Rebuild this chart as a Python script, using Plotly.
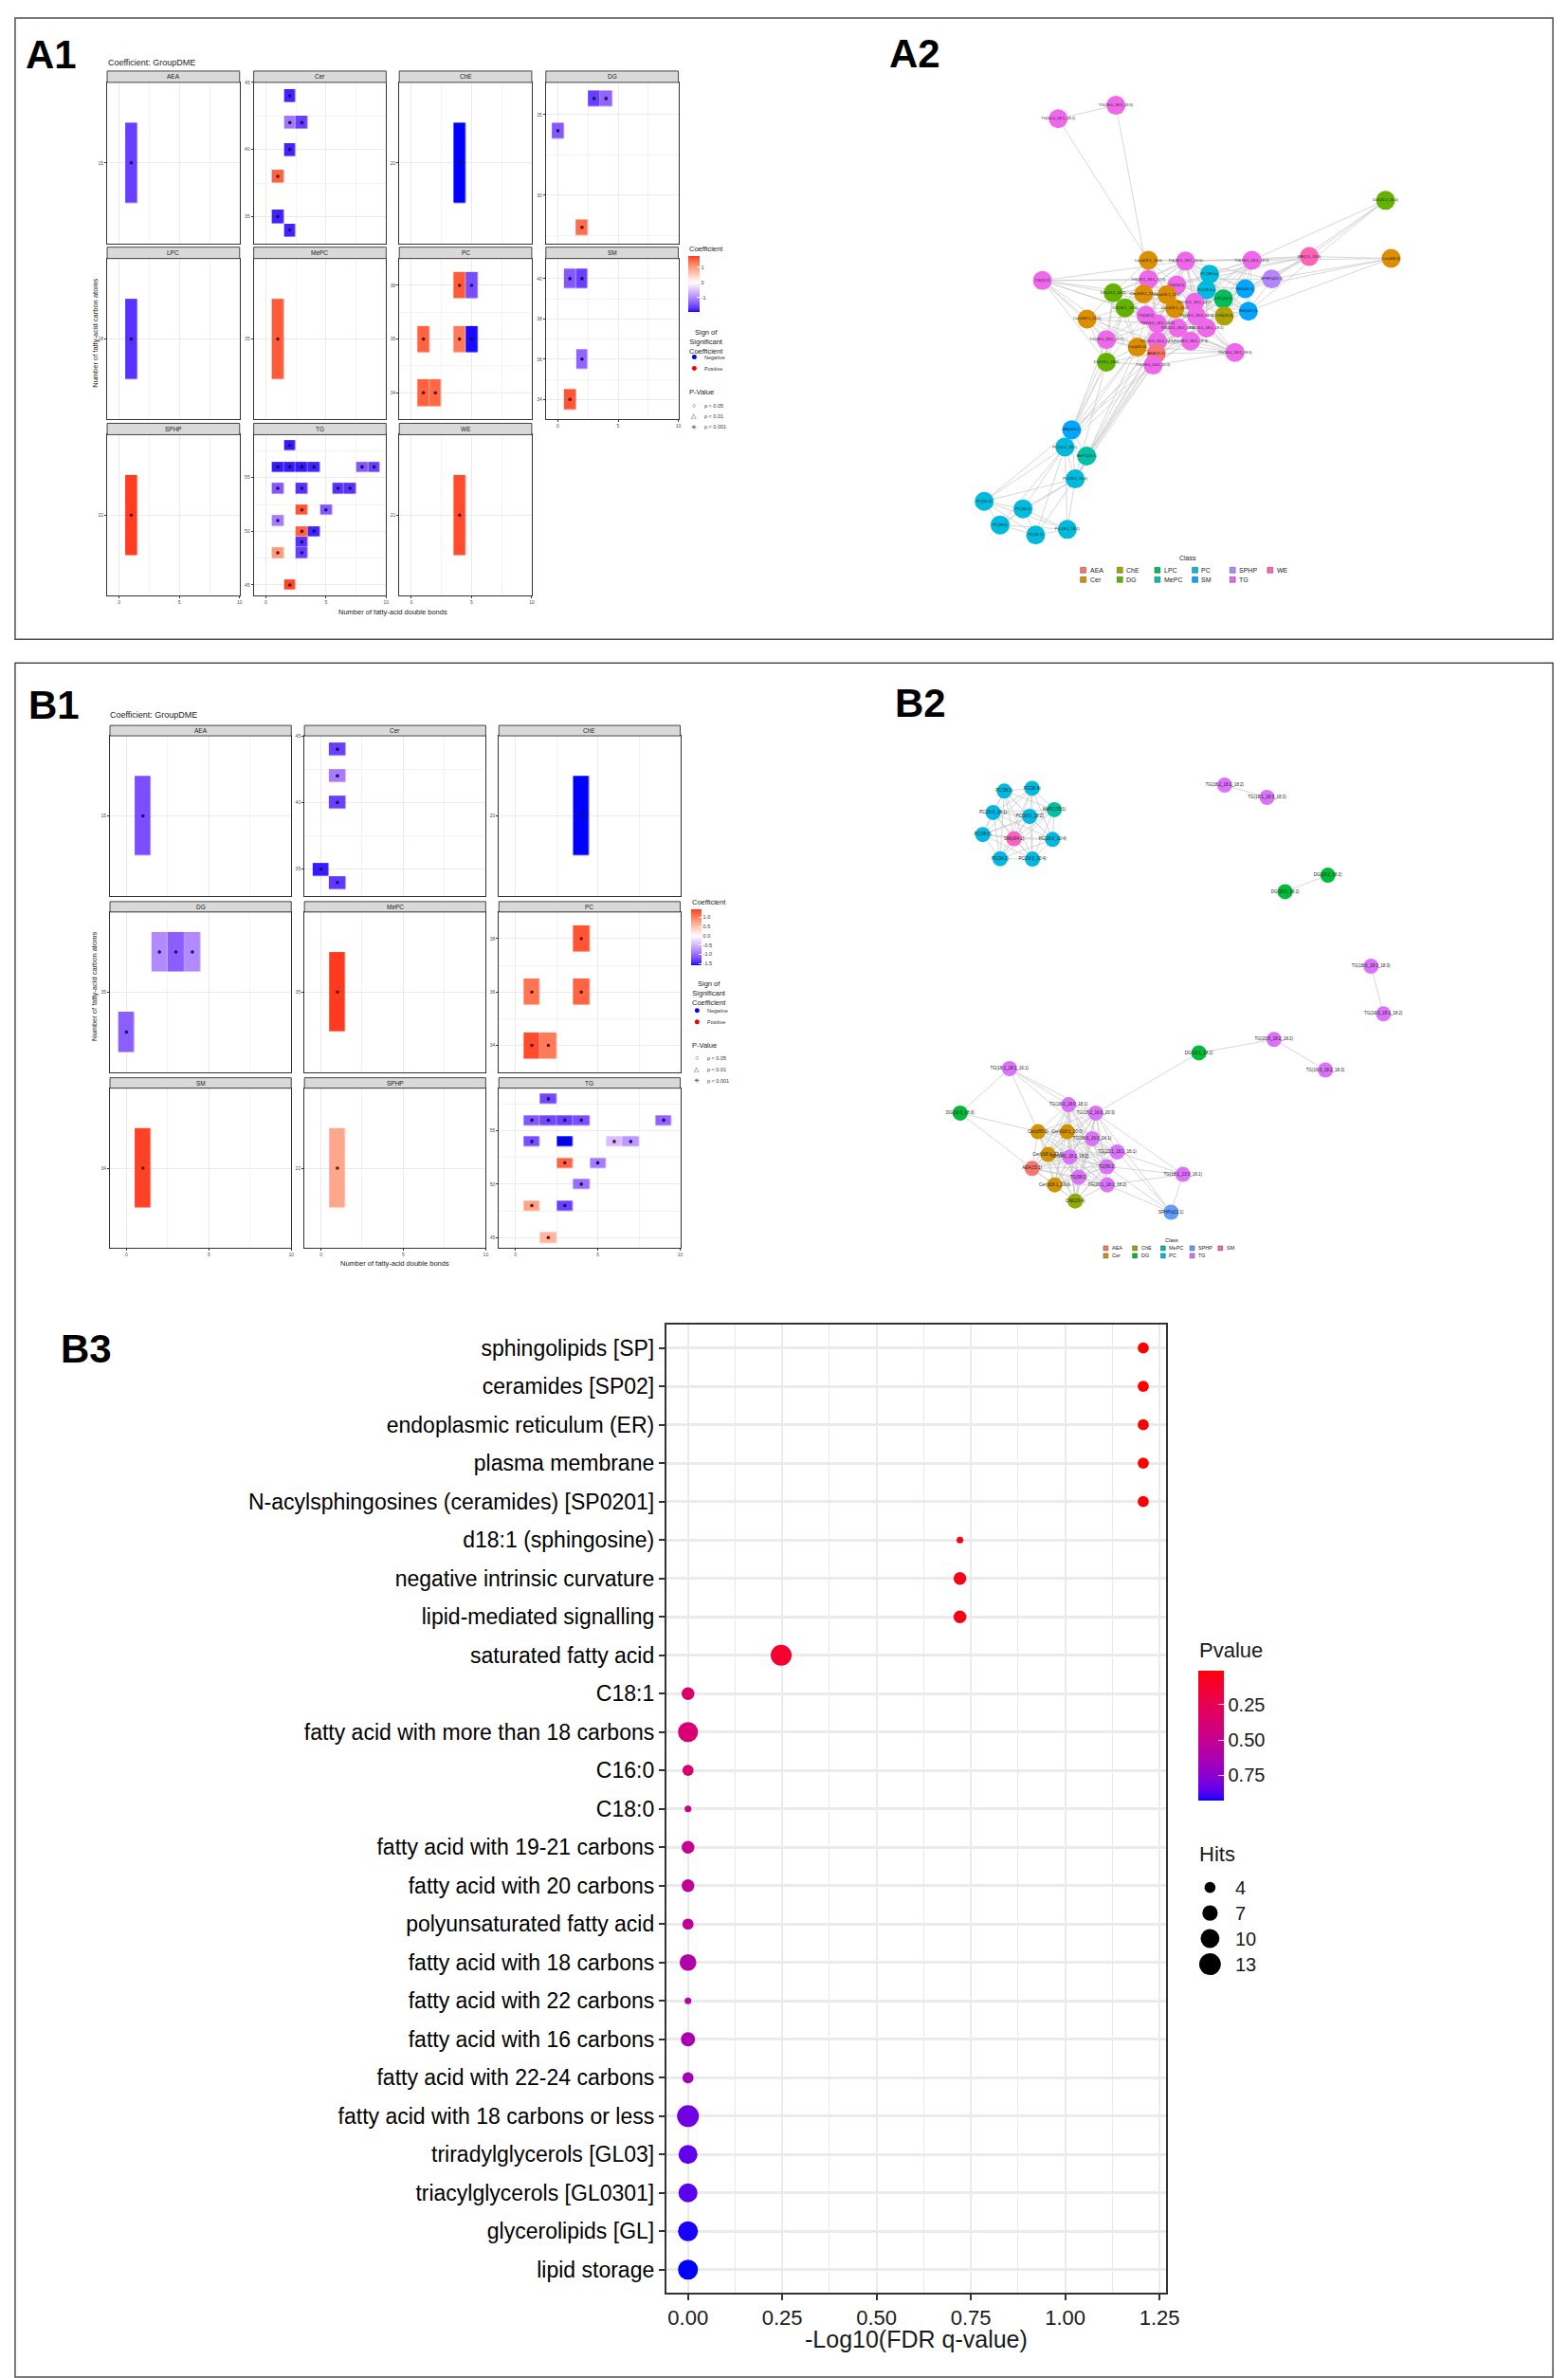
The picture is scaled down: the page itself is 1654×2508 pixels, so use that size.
import math
import plotly.graph_objects as go

# ============================ DATA ============================
# ---- A1: significant tiles (lipid class, double bonds, carbon atoms, coefficient, sign) ----
A1_FACETS = ["AEA", "Cer", "ChE", "DG", "LPC", "MePC", "PC", "SM", "SPHP", "TG", "WE"]
A1_CLASS = ["AEA",
            "Cer", "Cer", "Cer", "Cer", "Cer", "Cer", "Cer",
            "ChE",
            "DG", "DG", "DG", "DG",
            "LPC",
            "MePC",
            "PC", "PC", "PC", "PC", "PC", "PC", "PC",
            "SM", "SM", "SM", "SM",
            "SPHP",
            "TG", "TG", "TG", "TG", "TG", "TG", "TG", "TG", "TG", "TG",
            "TG", "TG", "TG", "TG", "TG", "TG", "TG", "TG", "TG", "TG",
            "WE"]
A1_DB = [1,
         2, 2, 3, 2, 1, 1, 2,
         4,
         3, 4, 0, 2,
         1,
         1,
         4, 5, 1, 4, 5, 1, 2,
         1, 2, 2, 1,
         1,
         2, 1, 2, 3, 4, 8, 9, 1, 3, 6,
         7, 3, 5, 1, 3, 4, 3, 1, 3, 2,
         4]
A1_CARBON = [15,
             44, 42, 42, 40, 38, 35, 34,
             20,
             36, 36, 34, 28,
             18,
             35,
             38, 38, 36, 36, 36, 34, 34,
             40, 40, 36, 34,
             22,
             58, 56, 56, 56, 56, 56, 56, 54, 54, 54,
             54, 52, 52, 51, 50, 50, 49, 48, 48, 45,
             21]
A1_COEF = [-1.60,
           -1.80, -1.15, -1.60, -1.80, 1.50, -1.80, -1.80,
           -1.94,
           -1.60, -1.30, -1.40, 1.40,
           -1.70,
           1.55,
           1.55, -1.50, 1.50, 1.30, -1.90, 1.50, 1.45,
           -1.40, -1.60, -1.30, 1.60,
           1.75,
           -1.85, -1.85, -1.85, -1.85, -1.80, -1.40, -1.60, -1.40, -1.70, -1.70,
           -1.70, 1.60, -1.40, -1.10, 1.50, -1.80, -1.70, 1.00, -1.60, 1.70,
           1.65]
A1_SIGN = ["N",
           "N", "N", "N", "N", "P", "N", "N",
           "N",
           "N", "N", "N", "P",
           "N",
           "P",
           "P", "N", "P", "P", "N", "P", "P",
           "N", "N", "N", "P",
           "P",
           "N", "N", "N", "N", "N", "N", "N", "N", "N", "N",
           "N", "P", "N", "N", "P", "N", "N", "P", "N", "P",
           "P"]
A1_YTICKS = {"AEA": [15], "Cer": [35, 40, 45], "ChE": [20], "DG": [30, 35], "LPC": [18],
             "MePC": [35], "PC": [34, 36, 38], "SM": [34, 36, 38, 40], "SPHP": [22],
             "TG": [45, 50, 55], "WE": [21]}
A1_CB_TICKS = [-1, 0, 1]

# ---- B1 ----
B1_FACETS = ["AEA", "Cer", "ChE", "DG", "MePC", "PC", "SM", "SPHP", "TG"]
B1_CLASS = ["AEA",
            "Cer", "Cer", "Cer", "Cer", "Cer",
            "ChE",
            "DG", "DG", "DG", "DG",
            "MePC",
            "PC", "PC", "PC", "PC", "PC",
            "SM",
            "SPHP",
            "TG", "TG", "TG", "TG", "TG", "TG", "TG", "TG",
            "TG", "TG", "TG", "TG", "TG", "TG", "TG", "TG"]
B1_DB = [1,
         1, 1, 1, 0, 1,
         4,
         2, 3, 4, 0,
         1,
         4, 1, 4, 1, 2,
         1,
         1,
         2, 1, 2, 3, 4, 9, 1, 3,
         6, 7, 3, 5, 4, 1, 3, 2]
B1_CARBON = [15,
             44, 42, 40, 35, 34,
             20,
             36, 36, 36, 34,
             35,
             38, 36, 36, 34, 34,
             34,
             22,
             58, 56, 56, 56, 56, 56, 54, 54,
             54, 54, 52, 52, 50, 48, 48, 45]
B1_COEF = [-1.20,
           -1.30, -0.90, -1.30, -1.50, -1.35,
           -1.58,
           -0.80, -1.10, -0.80, -1.10,
           1.44,
           1.30, 1.10, 1.20, 1.35, 1.05,
           1.40,
           0.72,
           -1.25, -1.15, -1.25, -1.30, -1.20, -1.05, -1.20, -1.58,
           -0.45, -0.70, 1.20, -0.90, -1.00, 0.75, -1.30, 0.60]
B1_SIGN = ["N",
           "N", "N", "N", "N", "N",
           "N",
           "N", "N", "N", "N",
           "P",
           "P", "P", "P", "P", "P",
           "P",
           "P",
           "N", "N", "N", "N", "N", "N", "N", "N",
           "P", "N", "P", "N", "N", "P", "N", "P"]
B1_YTICKS = {"AEA": [15], "Cer": [35, 40, 45], "ChE": [20], "DG": [35], "MePC": [35],
             "PC": [34, 36, 38], "SM": [34], "SPHP": [22], "TG": [45, 50, 55]}
B1_CB_TICKS = [-1.5, -1.0, -0.5, 0.0, 0.5, 1.0]

X_TICKS = [0, 5, 10]
SIGN_NAMES = ["Negative", "Positive"]
PVAL_NAMES = ["p < 0.05", "p < 0.01", "p < 0.001"]

# ---- A2 network (layout coordinates) ----
A2_CLASSES = ["AEA", "Cer", "ChE", "DG", "LPC", "MePC", "PC", "SM", "SPHP", "TG", "WE"]
A2_NAMES = ["TG(16:0_18:1_18:2)", "TG(18:0_18:3_18:3)", "DG(20:2_20:4)", "Cer(d36:0)", "WE(2:0_19:4)",
            "TG(18:1_18:0_16:1)", "SPHP(d22:1)", "SM(d40:1)", "SM(d40:2)", "LPC(18:1)",
            "ChE(20:4)", "PC(38:5e)", "PC(36:5e)", "TG(18:1_18:2_20:5)", "Cer(d18:1_16:0)",
            "TG(18:1_18:1_17:1)", "TG(56:2)", "Cer(d18:2_24:0)", "Cer(d18:1_22:0)", "DG(18:2_18:2)",
            "DG(18:1_18:2)", "TG(51:1)", "Cer(d18:1_24:0)", "TG(20:1_18:1_18:2)", "Cer(d18:1_20:0)",
            "TG(58:2)", "TG(18:1_18:3_18:3)", "TG(14:0_18:2_18:2)", "TG(20:5_18:2_18:2)", "TG(20:1_18:1_18:1)",
            "TG(18:0_18:0_18:1)", "TG(16:0_16:0_24:1)", "TG(18:2_18:2_18:3)", "Cer(d35:0)", "AEA(15:1)",
            "TG(16:0_18:2_18:3)", "DG(18:0_18:0)", "TG(18:0_14:0_20:3)", "SM(d34:1)", "PC(16:0_18:1)",
            "MePC(35:1)", "PC(18:0_20:4)", "PC(34:2)", "PC(36:4)", "PC(38:6)",
            "PC(36:1)", "PC(18:0_18:2)"]
A2_NODE_CLASS = ["TG", "TG", "DG", "Cer", "WE",
                 "TG", "SPHP", "SM", "SM", "LPC",
                 "ChE", "PC", "PC", "TG", "Cer",
                 "TG", "TG", "Cer", "Cer", "DG",
                 "DG", "TG", "Cer", "TG", "Cer",
                 "TG", "TG", "TG", "TG", "TG",
                 "TG", "TG", "TG", "Cer", "AEA",
                 "TG", "DG", "TG", "SM", "PC",
                 "MePC", "PC", "PC", "PC", "PC",
                 "PC", "PC"]
A2_X = [305, 451, 1133, 1147, 940, 795, 845, 778, 786, 723,
        725, 688, 680, 627, 533, 533, 605, 521, 580, 444,
        474, 265, 378, 650, 600, 527, 655, 556, 608, 680,
        427, 556, 640, 505, 553, 752, 427, 545, 339, 322,
        377, 348, 118, 216, 158, 248, 328]
A2_Y = [163, 127, 381, 536, 531, 541, 591, 617, 677, 644,
        690, 578, 620, 543, 541, 592, 607, 631, 633, 628,
        668, 595, 698, 653, 670, 688, 690, 710, 722, 722,
        753, 757, 757, 773, 790, 787, 813, 821, 994, 1040,
        1064, 1125, 1185, 1205, 1248, 1275, 1260]
A2_CLIQUES = [[13, 14, 15, 16, 17, 18, 19, 20, 24, 25, 27],
              [5, 7, 8, 9, 10, 11, 12, 13, 16, 23, 26, 29],
              [23, 24, 25, 26, 27, 28, 29, 31, 32, 33, 34, 35, 37],
              [19, 20, 21, 22, 25, 30, 33, 36],
              [38, 39, 40, 41],
              [39, 41, 42, 43, 44, 45, 46]]
A2_EDGES = [(0, 1), (0, 14), (1, 15), (2, 4), (2, 5), (2, 6), (2, 8), (3, 4), (3, 5), (3, 6),
            (3, 8), (3, 7), (4, 5), (4, 6), (4, 7), (4, 9), (4, 11), (4, 13), (4, 16), (21, 15),
            (21, 13), (21, 6), (21, 17), (14, 5), (6, 7), (6, 8), (6, 13), (22, 27), (22, 31), (30, 34),
            (30, 27), (36, 33), (36, 34), (36, 37), (38, 36), (38, 37), (38, 34), (38, 33), (38, 30), (39, 36),
            (39, 37), (39, 31), (39, 33), (40, 34), (40, 37), (40, 27), (40, 31), (41, 37), (41, 34), (41, 36),
            (38, 20), (40, 33), (41, 31), (42, 39), (42, 38)]

# ---- B2 network ----
B2_CLASSES = ["AEA", "Cer", "ChE", "DG", "MePC", "PC", "SPHP", "TG", "SM"]
B2_NAMES = ["PC(36:1)", "PC(36:4)", "MePC(35:1)", "PC(16:0_18:1)", "PC(16:0_18:2)",
            "PC(38:6)", "SM(d34:1)", "PC(18:0_20:4)", "PC(34:2)", "PC(16:0_20:4)",
            "TG(18:2_18:2_18:2)", "TG(18:1_18:3_18:3)", "DG(18:2_18:2)", "DG(16:0_18:2)", "TG(18:0_18:3_18:3)",
            "TG(16:0_18:1_18:2)", "DG(18:1_18:2)", "TG(20:5_18:2_18:2)", "TG(16:0_18:2_18:3)", "TG(18:1_18:1_16:1)",
            "DG(18:0_18:0)", "TG(18:0_18:0_18:1)", "TG(18:2_16:0_20:3)", "Cer(d35:0)", "Cer(d18:1_20:0)",
            "TG(16:0_16:0_24:1)", "TG(20:1_18:1_16:1)", "Cer(d18:1_22:0)", "TG(14:0_18:2_18:2)", "AEA(15:1)",
            "TG(56:2)", "TG(58:2)", "Cer(d18:1_23:0)", "TG(20:1_18:1_18:2)", "ChE(20:4)",
            "TG(18:1_13:0_16:1)", "SPHP(d22:1)"]
B2_NODE_CLASS = ["PC", "PC", "MePC", "PC", "PC",
                 "PC", "SM", "PC", "PC", "PC",
                 "TG", "TG", "DG", "DG", "TG",
                 "TG", "DG", "TG", "TG", "TG",
                 "DG", "TG", "TG", "Cer", "Cer",
                 "TG", "TG", "Cer", "TG", "AEA",
                 "TG", "TG", "Cer", "TG", "ChE",
                 "TG", "SPHP"]
B2_X = [300, 380, 444, 268, 373, 238, 328, 439, 288, 381,
        934, 1056, 1231, 1108, 1355, 1391, 860, 1076, 1224, 315,
        173, 485, 563, 397, 481, 553, 625, 426, 488, 380,
        595, 514, 445, 596, 504, 814, 780]
B2_Y = [228, 220, 281, 289, 300, 352, 364, 366, 421, 422,
        211, 246, 468, 515, 728, 864, 975, 937, 1024, 1020,
        1147, 1123, 1147, 1200, 1200, 1220, 1258, 1265, 1272, 1305,
        1300, 1330, 1352, 1352, 1398, 1322, 1430]
B2_CLIQUES = [[0, 1, 2, 3, 4, 5, 6, 7, 8, 9],
              [21, 22, 23, 24, 25, 26, 27, 28, 29, 30, 31, 32, 33, 34]]
B2_EDGES = [(10, 11), (12, 13), (14, 15), (16, 17), (17, 18), (16, 22), (19, 20), (19, 21), (19, 22),
            (19, 23), (19, 25), (20, 23), (20, 29), (35, 26), (35, 30), (35, 33), (35, 36), (35, 22),
            (36, 30), (36, 33), (36, 26), (36, 22)]

# ---- B3 enrichment dot plot ----
B3_TERMS = ["sphingolipids [SP]", "ceramides [SP02]", "endoplasmic reticulum (ER)", "plasma membrane",
            "N-acylsphingosines (ceramides) [SP0201]", "d18:1 (sphingosine)", "negative intrinsic curvature",
            "lipid-mediated signalling", "saturated fatty acid", "C18:1", "fatty acid with more than 18 carbons",
            "C16:0", "C18:0", "fatty acid with 19-21 carbons", "fatty acid with 20 carbons",
            "polyunsaturated fatty acid", "fatty acid with 18 carbons", "fatty acid with 22 carbons",
            "fatty acid with 16 carbons", "fatty acid with 22-24 carbons", "fatty acid with 18 carbons or less",
            "triradylglycerols [GL03]", "triacylglycerols [GL0301]", "glycerolipids [GL]", "lipid storage"]
B3_FDR = [1.207, 1.207, 1.207, 1.207, 1.207, 0.721, 0.721, 0.721, 0.247, 0.0,
          0.0, 0.0, 0.0, 0.0, 0.0, 0.0, 0.0, 0.0, 0.0, 0.0,
          0.0, 0.0, 0.0, 0.0, 0.0]
B3_PVALUE = [0.007, 0.007, 0.008, 0.008, 0.008, 0.04, 0.05, 0.05, 0.12, 0.35,
             0.38, 0.36, 0.45, 0.50, 0.52, 0.53, 0.60, 0.56, 0.63, 0.66,
             0.82, 0.85, 0.86, 0.92, 0.93]
B3_HITS = [4, 4, 4, 4, 4, 2, 5, 5, 12, 5,
           11, 4, 2, 5, 5, 4, 8, 2, 6, 4,
           13, 10, 10, 11, 11]
B3_X_TICKS = [0.0, 0.25, 0.5, 0.75, 1.0, 1.25]
B3_CB_TICKS = [0.25, 0.50, 0.75]
B3_HITS_LEGEND = [4, 7, 10, 13]

# ============================ STYLE / GEOMETRY ============================
W, H = 1654, 2508
FONT = "Liberation Sans, Arial, sans-serif"

A1_GEOM = dict(colx=[106, 262, 417, 573], pw=141, rowy=[64, 250, 436], sh=12, ph=170, ncol=4)
B1_GEOM = dict(colx=[109, 316, 523], pw=193, rowy=[755, 941, 1127], sh=11, ph=169, ncol=3)

A2_PAL = {"AEA": "#F8766D", "Cer": "#DB8E00", "ChE": "#AEA200", "DG": "#64B200", "LPC": "#00BD5C",
          "MePC": "#00C1A7", "PC": "#00BADE", "SM": "#00A6FF", "SPHP": "#B385FF", "TG": "#EF67EB",
          "WE": "#FF63B6"}
B2_PAL = {"AEA": "#F8766D", "Cer": "#D39200", "ChE": "#93AA00", "DG": "#00BA38", "MePC": "#00C19F",
          "PC": "#00B9E3", "SPHP": "#619CFF", "TG": "#DB72FB", "SM": "#FF61C3"}


# ---------- colour helpers (Lab interpolation like ggplot) ----------
def _lin(c):
    c = c / 255.0
    return c / 12.92 if c <= 0.04045 else ((c + 0.055) / 1.055) ** 2.4


def _gam(c):
    c = max(0.0, min(1.0, c))
    v = 12.92 * c if c <= 0.0031308 else 1.055 * c ** (1 / 2.4) - 0.055
    return int(round(v * 255))


def hex2lab(h):
    h = h.lstrip("#")
    r, g, b = [_lin(int(h[i:i + 2], 16)) for i in (0, 2, 4)]
    X = (0.4124 * r + 0.3576 * g + 0.1805 * b) / 0.95047
    Y = 0.2126 * r + 0.7152 * g + 0.0722 * b
    Z = (0.0193 * r + 0.1192 * g + 0.9505 * b) / 1.08883
    f = lambda t: t ** (1 / 3) if t > 0.008856 else 7.787 * t + 16 / 116
    fx_, fy_, fz_ = f(X), f(Y), f(Z)
    return (116 * fy_ - 16, 500 * (fx_ - fy_), 200 * (fy_ - fz_))


def lab2hex(lab):
    L, a, b = lab
    fy_ = (L + 16) / 116
    fx_ = fy_ + a / 500
    fz_ = fy_ - b / 200
    inv = lambda t: t ** 3 if t ** 3 > 0.008856 else (t - 16 / 116) / 7.787
    X, Y, Z = 0.95047 * inv(fx_), inv(fy_), 1.08883 * inv(fz_)
    r = 3.2406 * X - 1.5372 * Y - 0.4986 * Z
    g = -0.9689 * X + 1.8758 * Y + 0.0415 * Z
    bb = 0.0557 * X - 0.2040 * Y + 1.0570 * Z
    return "#%02X%02X%02X" % (_gam(r), _gam(g), _gam(bb))


def lab_mix(h1, h2, t):
    a, b = hex2lab(h1), hex2lab(h2)
    return lab2hex(tuple(a[i] + (b[i] - a[i]) * t for i in range(3)))


def gradient2_scale(zmin, zmax, n=40):
    m = max(abs(zmin), abs(zmax))
    out = []
    for k in range(n + 1):
        t = k / n
        v = zmin + t * (zmax - zmin)
        u = v / m
        col = lab_mix("#FFFFFF", "#0000FF", -u) if u < 0 else lab_mix("#FFFFFF", "#FF0000", u)
        out.append([t, col])
    return out


# ---------- layout helpers ----------
def fx(px):
    return px / W


def fy(py):
    return 1 - py / H


layout = dict(width=W, height=H, margin=dict(l=0, r=0, t=0, b=0), paper_bgcolor="white",
              plot_bgcolor="white", showlegend=False, font=dict(family=FONT, color="#1a1a1a"))
traces, shapes, annotations = [], [], []
_axn = [0]


def new_axes(x0, x1, y0, y1, xa, ya):
    _axn[0] += 1
    i = _axn[0]
    sfx = "" if i == 1 else str(i)
    xa = dict(xa)
    ya = dict(ya)
    xa.update(domain=[fx(x0), fx(x1)], anchor="y" + sfx)
    ya.update(domain=[fy(y1), fy(y0)], anchor="x" + sfx)
    layout["xaxis" + sfx] = xa
    layout["yaxis" + sfx] = ya
    return "x" + sfx, "y" + sfx


def text(x, y, s, size, color="#1a1a1a", xanchor="left", yanchor="middle", angle=0, bold=False):
    if bold:
        s = "<b>" + s + "</b>"
    annotations.append(dict(x=fx(x), y=fy(y), xref="paper", yref="paper", text=s, showarrow=False,
                            font=dict(size=size, color=color, family=FONT), xanchor=xanchor,
                            yanchor=yanchor, textangle=angle, borderpad=0))


def rect(x0, y0, x1, y1, fill, line="rgba(0,0,0,0)", lw=0):
    shapes.append(dict(type="rect", xref="paper", yref="paper", x0=fx(x0), x1=fx(x1), y0=fy(y1),
                       y1=fy(y0), fillcolor=fill, line=dict(color=line, width=lw)))


def circle(cx, cy, d, fill, line="rgba(0,0,0,0)", lw=0):
    shapes.append(dict(type="circle", xref="paper", yref="paper", x0=fx(cx - d / 2), x1=fx(cx + d / 2),
                       y0=fy(cy + d / 2), y1=fy(cy - d / 2), fillcolor=fill, line=dict(color=line, width=lw)))


# ---------- panel boxes and labels ----------
rect(8, 8, 1645, 664, "rgba(0,0,0,0)", "#4d4d4d", 1.5)
rect(8, 689, 1645, 2499, "rgba(0,0,0,0)", "#4d4d4d", 1.5)
text(46, 47, "A1", 42, "#000", "center", bold=True)
text(966, 46, "A2", 42, "#000", "center", bold=True)
text(49, 733, "B1", 42, "#000", "center", bold=True)
text(972, 731, "B2", 42, "#000", "center", bold=True)
text(84, 1413, "B3", 42, "#000", "center", bold=True)


# ---------- facet tile panels ----------
def minor_between(ticks, lo, hi):
    if len(ticks) < 2:
        return []
    st = ticks[1] - ticks[0]
    cand = [ticks[0] - st / 2] + [t + st / 2 for t in ticks]
    return [c for c in cand if lo < c < hi]


def facet_panel(facets, cls, db, carb, coef, sign, yticks, geom, cb_ticks, cb_box, tick_fmt):
    zmin, zmax = min(coef), max(coef)
    cscale = gradient2_scale(zmin, zmax)
    ncol = geom["ncol"]
    for idx, fac in enumerate(facets):
        r, c = divmod(idx, ncol)
        x0 = geom["colx"][c]
        x1 = x0 + geom["pw"]
        st = geom["rowy"][r]
        py0 = st + geom["sh"]
        py1 = py0 + geom["ph"]
        bottom = idx + ncol >= len(facets)
        ids = [i for i in range(len(cls)) if cls[i] == fac]
        xs = [db[i] for i in ids]
        ys = [carb[i] for i in ids]
        lo, hi = min(ys) - 1, max(ys) + 1
        axcommon = dict(showline=True, mirror=True, linecolor="#333333", linewidth=0.9, zeroline=False,
                        showgrid=True, gridcolor="#EBEBEB", gridwidth=0.9, fixedrange=True,
                        tickfont=dict(size=5, color="#4d4d4d", family=FONT), ticklen=2, tickwidth=0.6,
                        tickcolor="#333333")
        xa = dict(axcommon, range=[-1, 10], tickmode="array", tickvals=X_TICKS,
                  showticklabels=bottom, ticks="outside" if bottom else "",
                  minor=dict(tickvals=[2.5, 7.5], showgrid=True, gridcolor="#F3F3F3", gridwidth=0.5))
        ya = dict(axcommon, range=[lo, hi], tickmode="array", tickvals=yticks[fac], ticks="outside",
                  minor=dict(tickvals=minor_between(yticks[fac], lo, hi), showgrid=True,
                             gridcolor="#F3F3F3", gridwidth=0.5))
        xr, yr = new_axes(x0, x1, py0, py1, xa, ya)
        gx = list(range(min(xs), max(xs) + 1))
        gy = list(range(min(ys), max(ys) + 1))
        z = [[None] * len(gx) for _ in gy]
        for i in ids:
            z[carb[i] - gy[0]][db[i] - gx[0]] = coef[i]
        hm = dict(x=gx, y=gy, z=z, zmin=zmin, zmax=zmax, colorscale=cscale, xaxis=xr, yaxis=yr,
                  hoverinfo="skip", showscale=(idx == 0), xgap=0.4, ygap=0.4)
        if idx == 0:
            bx, by, blen, bth = cb_box
            hm["colorbar"] = dict(x=fx(bx), xanchor="left", y=fy(by), yanchor="top", len=blen,
                                  lenmode="pixels", thickness=bth, thicknessmode="pixels", xpad=0, ypad=0,
                                  outlinewidth=0, tickmode="array", tickvals=cb_ticks,
                                  ticktext=[tick_fmt.format(t) for t in cb_ticks], ticks="inside",
                                  tickcolor="white", ticklen=3, tickwidth=0.6,
                                  tickfont=dict(size=5.5, color="#333", family=FONT))
        traces.append(go.Heatmap(**hm))
        traces.append(go.Scatter(x=xs, y=ys, mode="markers", xaxis=xr, yaxis=yr, hoverinfo="skip",
                                 cliponaxis=False,
                                 marker=dict(size=3.6, opacity=1, line=dict(width=0),
                                             color=["#15105e" if sign[i] == "N" else "#5e1010" for i in ids])))
        rect(x0, st, x1, py0, "#D9D9D9", "#333333", 0.9)
        text((x0 + x1) / 2, st + geom["sh"] / 2, fac, 6.5, "#1a1a1a", "center")


def facet_legend(lx, ytitle, ycb, yneg, ypos, yp, yps, title_y):
    text(lx, ytitle, "Coefficient", 7.5, "#1a1a1a", "left")
    text(lx, title_y, "Sign of<br>Significant<br>Coefficient", 7.5, "#1a1a1a", "left", "top")
    for k, (yy, col) in enumerate([(yneg, "#0000EE"), (ypos, "#EE0000")]):
        circle(lx + 6, yy, 5, col)
        text(lx + 16, yy, SIGN_NAMES[k], 5.5, "#333", "left")
    text(lx, yp, "P-Value", 7.5, "#1a1a1a", "left")
    glyphs = ["○", "△", "✳"]
    for k, yy in enumerate(yps):
        text(lx + 6, yy, glyphs[k], 7, "#333", "center")
        text(lx + 16, yy, PVAL_NAMES[k], 5.5, "#333", "left")


# ---------------- A1 ----------------
text(106, 55, "Coefficient: GroupDME", 9, "#1a1a1a", "left")
facet_panel(A1_FACETS, A1_CLASS, A1_DB, A1_CARBON, A1_COEF, A1_SIGN, A1_YTICKS, A1_GEOM,
            A1_CB_TICKS, (725, 259, 59, 12), "{:g}")
facet_legend(725, 252, 259, 366, 378, 403, [417, 428.5, 440], 334)
text(93, 341, "Number of fatty-acid carbon atoms", 7.5, "#1a1a1a", "center", angle=-90)
text(410, 635, "Number of fatty-acid double bonds", 7.5, "#1a1a1a", "center")

# ---------------- B1 ----------------
text(108, 744, "Coefficient: GroupDME", 9, "#1a1a1a", "left")
facet_panel(B1_FACETS, B1_CLASS, B1_DB, B1_CARBON, B1_COEF, B1_SIGN, B1_YTICKS, B1_GEOM,
            B1_CB_TICKS, (728, 949, 59, 11), "{:.1f}")
facet_legend(728, 942, 949, 1056, 1068, 1093, [1106, 1118, 1130], 1022)
text(93, 1031, "Number of fatty-acid carbon atoms", 7.5, "#1a1a1a", "center", angle=-90)
text(412, 1323, "Number of fatty-acid double bonds", 7.5, "#1a1a1a", "center")


# ---------------- networks ----------------
def network(names, ncls, xs, ys, cliques, edges, pal, box, rng, node_size, label_size):
    x0, y0, x1, y1 = box
    hidden = dict(visible=False, fixedrange=True)
    xr, yr = new_axes(x0, x1, y0, y1, dict(hidden, range=rng[0]), dict(hidden, range=rng[1]))
    es = set()
    for cq in cliques:
        for a in range(len(cq)):
            for b in range(a + 1, len(cq)):
                es.add(tuple(sorted((cq[a], cq[b]))))
    for a, b in edges:
        es.add(tuple(sorted((a, b))))
    ex, ey = [], []
    for a, b in sorted(es):
        ex += [xs[a], xs[b], None]
        ey += [ys[a], ys[b], None]
    traces.append(go.Scatter(x=ex, y=ey, mode="lines", xaxis=xr, yaxis=yr, hoverinfo="skip",
                             line=dict(color="#C6C6C6", width=0.7), cliponaxis=False))
    traces.append(go.Scatter(x=xs, y=ys, mode="markers+text", xaxis=xr, yaxis=yr, text=names,
                             textposition="middle center", cliponaxis=False, hoverinfo="text",
                             textfont=dict(size=label_size, color="#222", family=FONT),
                             marker=dict(size=node_size, opacity=1, color=[pal[c] for c in ncls],
                                         line=dict(width=0))))


def class_legend(classes, pal, title_xy, colx, rowy, fsize, key):
    text(title_xy[0], title_xy[1], "Class", fsize, "#1a1a1a", "center")
    for k, cname in enumerate(classes):
        c, r = divmod(k, 2)
        kx, ky = colx[c], rowy[r]
        rect(kx - key / 2, ky - key / 2, kx + key / 2, ky + key / 2, pal[cname], "#333333", 0.4)
        text(kx + key / 2 + 3, ky, cname, fsize, "#1a1a1a", "left")


# A2: layout coordinates -> pixels (x: 2.376 units/px, y: 2.53 units/px from origin 990,50)
network(A2_NAMES, A2_NODE_CLASS, A2_X, A2_Y, A2_CLIQUES, A2_EDGES, A2_PAL,
        (990, 50, 1646, 664), ([0, 656 * 2.376], [614 * 2.53, 0]), 20, 4)
class_legend(A2_CLASSES, A2_PAL, (1256, 578), [1145, 1184, 1224, 1264, 1304, 1344], [591, 601], 7, 6)

# B2
network(B2_NAMES, B2_NODE_CLASS, B2_X, B2_Y, B2_CLIQUES, B2_EDGES, B2_PAL,
        (950, 740, 1640, 1330), ([0, 690 * 2.703], [590 * 2.703, 0]), 16, 4.5)
class_legend(B2_CLASSES, B2_PAL, (1239, 1299), [1169, 1200, 1230, 1261, 1291], [1307, 1315], 5.5, 5)

# ---------------- B3 ----------------
pmin, pmax = min(B3_PVALUE), max(B3_PVALUE)
neg_p = [-p for p in B3_PVALUE]
b3_scale = []
for k in range(41):
    t = k / 40
    p = -(-pmax + t * (pmax - pmin))
    b3_scale.append([t, lab_mix("#FF0000", "#0000FF", (p - pmin) / (pmax - pmin))])


def hit_diam(h):
    return math.sqrt(max(1.0, 43.6 * h - 37))


xa = dict(range=[-0.058, 1.267], tickmode="array", tickvals=B3_X_TICKS,
          ticktext=["{:.2f}".format(v) for v in B3_X_TICKS], ticks="outside", ticklen=6, tickwidth=1.5,
          tickcolor="#333333", tickfont=dict(size=22, color="#1a1a1a", family=FONT), showgrid=True,
          gridcolor="#EBEBEB", gridwidth=2,
          minor=dict(tickvals=[v + 0.125 for v in B3_X_TICKS[:-1]], showgrid=True, gridcolor="#EBEBEB",
                     gridwidth=1.2),
          showline=True, mirror=True, linecolor="#333333", linewidth=1.6, zeroline=False, fixedrange=True)
ya = dict(type="category", categoryorder="array", categoryarray=B3_TERMS,
          range=[len(B3_TERMS) - 0.4, -0.6], ticks="outside", ticklen=6, tickwidth=1.5,
          tickcolor="#333333", tickfont=dict(size=23, color="#000000", family=FONT), showgrid=True,
          gridcolor="#EBEBEB", gridwidth=3, showline=True, mirror=True, linecolor="#333333",
          linewidth=1.6, zeroline=False, fixedrange=True)
xr, yr = new_axes(701, 1233, 1388, 2410, xa, ya)
traces.append(go.Scatter(x=B3_FDR, y=B3_TERMS, mode="markers", xaxis=xr, yaxis=yr, cliponaxis=False,
                         marker=dict(size=[hit_diam(h) for h in B3_HITS], color=neg_p, cmin=-pmax,
                                     cmax=-pmin, colorscale=b3_scale, opacity=1, line=dict(width=0),
                                     showscale=True,
                                     colorbar=dict(x=fx(1267), xanchor="left", y=fy(1753), yanchor="top",
                                                   len=137, lenmode="pixels", thickness=27,
                                                   thicknessmode="pixels", xpad=0, ypad=0,
                                                   outlinewidth=0, tickmode="array",
                                                   tickvals=[-v for v in B3_CB_TICKS],
                                                   ticktext=["{:.2f}".format(v) for v in B3_CB_TICKS],
                                                   ticks="inside", tickcolor="rgba(255,255,255,0.8)",
                                                   ticklen=6, tickwidth=1,
                                                   tickfont=dict(size=20, color="#1a1a1a", family=FONT)))))
text(967, 2459, "-Log10(FDR q-value)", 25, "#1a1a1a", "center")
text(1267, 1732, "Pvalue", 22, "#1a1a1a", "left")
text(1267, 1947, "Hits", 22, "#1a1a1a", "left")
for k, h in enumerate(B3_HITS_LEGEND):
    yy = 1982 + 27 * k
    circle(1280, yy, hit_diam(h), "#000000")
    text(1306, yy, str(h), 20, "#1a1a1a", "left")

layout["shapes"] = shapes
layout["annotations"] = annotations
fig = go.Figure(data=traces, layout=layout)
fig.write_html("out.html")
